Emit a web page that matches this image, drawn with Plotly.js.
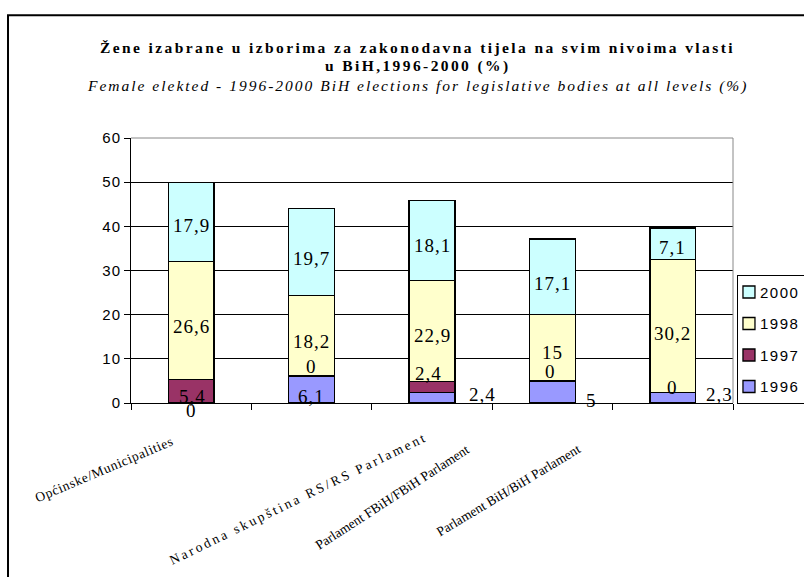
<!DOCTYPE html>
<html>
<head>
<meta charset="utf-8">
<script src="https://cdn.plot.ly/plotly-3.0.1.min.js"></script>
<style>
html,body{margin:0;padding:0;background:#fff;}
#chart{width:804px;height:577px;}
#chart .legendpoints{transform:translateX(-9px);}
#chart .legendtext{transform:translateX(-18px);}
</style>
</head>
<body>
<div id="chart"></div>
<script>
// ---- data ----
var categories = ["Općinske/Municipalities", "Narodna skupština RS/RS Parlament", "Parlament FBiH/FBiH Parlament", "Parlament BiH/BiH Parlament", "Parlament BiH (2)"];
var categoryLabels = ["Općinske/Municipalities", "Narodna skupština RS/RS Parlament", "Parlament FBiH/FBiH Parlament", "Parlament BiH/BiH Parlament"];
var seriesNames = ["1996", "1997", "1998", "2000"];
var v1996 = [0, 6.1, 2.4, 5, 2.3];
var v1997 = [5.4, 0, 2.4, 0, 0];
var v1998 = [26.6, 18.2, 22.9, 15, 30.2];
var v2000 = [17.9, 19.7, 18.1, 17.1, 7.1];
var yTicks = [0, 10, 20, 30, 40, 50, 60];
var titleLines = [
  "Žene izabrane u izborima za zakonodavna tijela na svim nivoima vlasti",
  "u BiH,1996-2000 (%)",
  "Female elekted - 1996-2000 BiH elections for legislative bodies at all levels (%)"
];

// ---- styles ----
function spaced(t, px){ return '<span style="letter-spacing:' + px + 'px">' + t + '</span>'; }
var colors = ["#9999FF", "#993366", "#FFFFCC", "#CCFFFF"];
var legendRanks = [4, 3, 2, 1];
var labelDX = [[0,0,50,39,47],[1,0,-4,-2,0],[0,0,0,0,0],[0,0,0,0,0]];
var labelDY = [[5,5,-5,7,-5],[3,-12,-16,-11,-7],[4,4,2,3,5],[1,4,3,5,2]];
var catLabelDX = [-13, 121, 42, 33];
var catLabelDY = [28, 24, 36, 36];
var catLabelAngle = [-23, -26, -33, -31];
var catLabelSpacing = [0.7, 2.6, 0, 0];
var titleShift = [91, 72, 52.5];
var titleSize = [15.5, 15.5, 15.5];
var titleSpacing = [2.4, 2.4, 2];
var titleWrap = ["b", "b", "i"];
var serif = "Liberation Serif, Times New Roman, serif";
var sans = "Liberation Sans, Arial, sans-serif";

var allSeries = [v1996, v1997, v1998, v2000];
var traces = allSeries.map(function(vals, s){
  return {
    type: "bar", name: spaced(seriesNames[s], 1.5), x: categories, y: vals,
    legendgroup: seriesNames[s], legendrank: legendRanks[s],
    marker: {color: colors[s], line: {color: "#000", width: 1.3}},
    hoverinfo: "none"
  };
});

var annotations = [];
titleLines.forEach(function(t, k){
  var w = titleWrap[k];
  annotations.push({
    xref: "paper", yref: "paper", x: 0.4767, y: 1, xanchor: "center", yanchor: "middle",
    yshift: titleShift[k], text: "<" + w + ">" + spaced(t, titleSpacing[k]) + "</" + w + ">", showarrow: false,
    font: {family: serif, size: titleSize[k], color: "#000"}
  });
});
var base = categories.map(function(){return 0;});
allSeries.forEach(function(vals, s){
  vals.forEach(function(v, i){
    annotations.push({
      xref: "x", yref: "y", x: categories[i], y: base[i] + v/2,
      text: spaced(String(v).replace(".", ","), 1), showarrow: false,
      xshift: labelDX[s][i], yshift: -labelDY[s][i] - 2,
      font: {family: serif, size: 19, color: "#000"}
    });
    base[i] += v;
  });
});
categoryLabels.forEach(function(t, i){
  annotations.push({
    xref: "x", yref: "paper", x: categories[i], y: 0,
    text: catLabelSpacing[i] ? spaced(t, catLabelSpacing[i]) : t, showarrow: false,
    xanchor: "right", yanchor: "top", textangle: catLabelAngle[i],
    xshift: catLabelDX[i], yshift: -catLabelDY[i],
    font: {family: serif, size: 13.5, color: "#000"}
  });
});

var layout = {
  width: 804, height: 577,
  margin: {l: 131, r: 71, t: 138, b: 173.5, autoexpand: false},
  paper_bgcolor: "#fff", plot_bgcolor: "#fff",
  barmode: "stack", bargap: 0.62,
  showlegend: true,
  xaxis: {
    type: "category", range: [-0.5, 4.5], showticklabels: false, showline: true, linecolor: "#000", linewidth: 1,
    ticks: "outside", tickson: "boundaries", ticklen: 6, tickcolor: "#000", showgrid: false, zeroline: false
  },
  yaxis: {
    range: [0, 60], tickvals: yTicks, ticktext: yTicks.map(function(t){ return spaced(String(t), 1); }),
    showline: true, linecolor: "#000", linewidth: 1, ticks: "outside", ticklen: 6, tickcolor: "#000",
    showgrid: true, gridcolor: "#000", gridwidth: 1, zeroline: false,
    tickfont: {family: sans, size: 15, color: "#000"}
  },
  legend: {
    x: 1.0066, y: 0.484, xanchor: "left", yanchor: "top",
    bordercolor: "#000", borderwidth: 1, bgcolor: "#fff",
    traceorder: "grouped", tracegroupgap: 9,
    font: {family: sans, size: 15, color: "#000"}
  },
  annotations: annotations,
  shapes: [
    {type: "line", xref: "paper", yref: "paper", x0: 0, x1: 1, y0: 1, y1: 1, line: {color: "#888", width: 1}, layer: "above"},
    {type: "line", xref: "paper", yref: "paper", x0: 1, x1: 1, y0: 0, y1: 1, line: {color: "#888", width: 1}, layer: "above"},
    {type: "rect", xref: "paper", yref: "paper", x0: -0.2043, x1: 1.3, y0: -0.8, y1: 1.4633, line: {color: "#000", width: 2}, layer: "above"}
  ]
};

Plotly.newPlot("chart", traces, layout, {staticPlot: true, displayModeBar: false});
</script>
</body>
</html>
